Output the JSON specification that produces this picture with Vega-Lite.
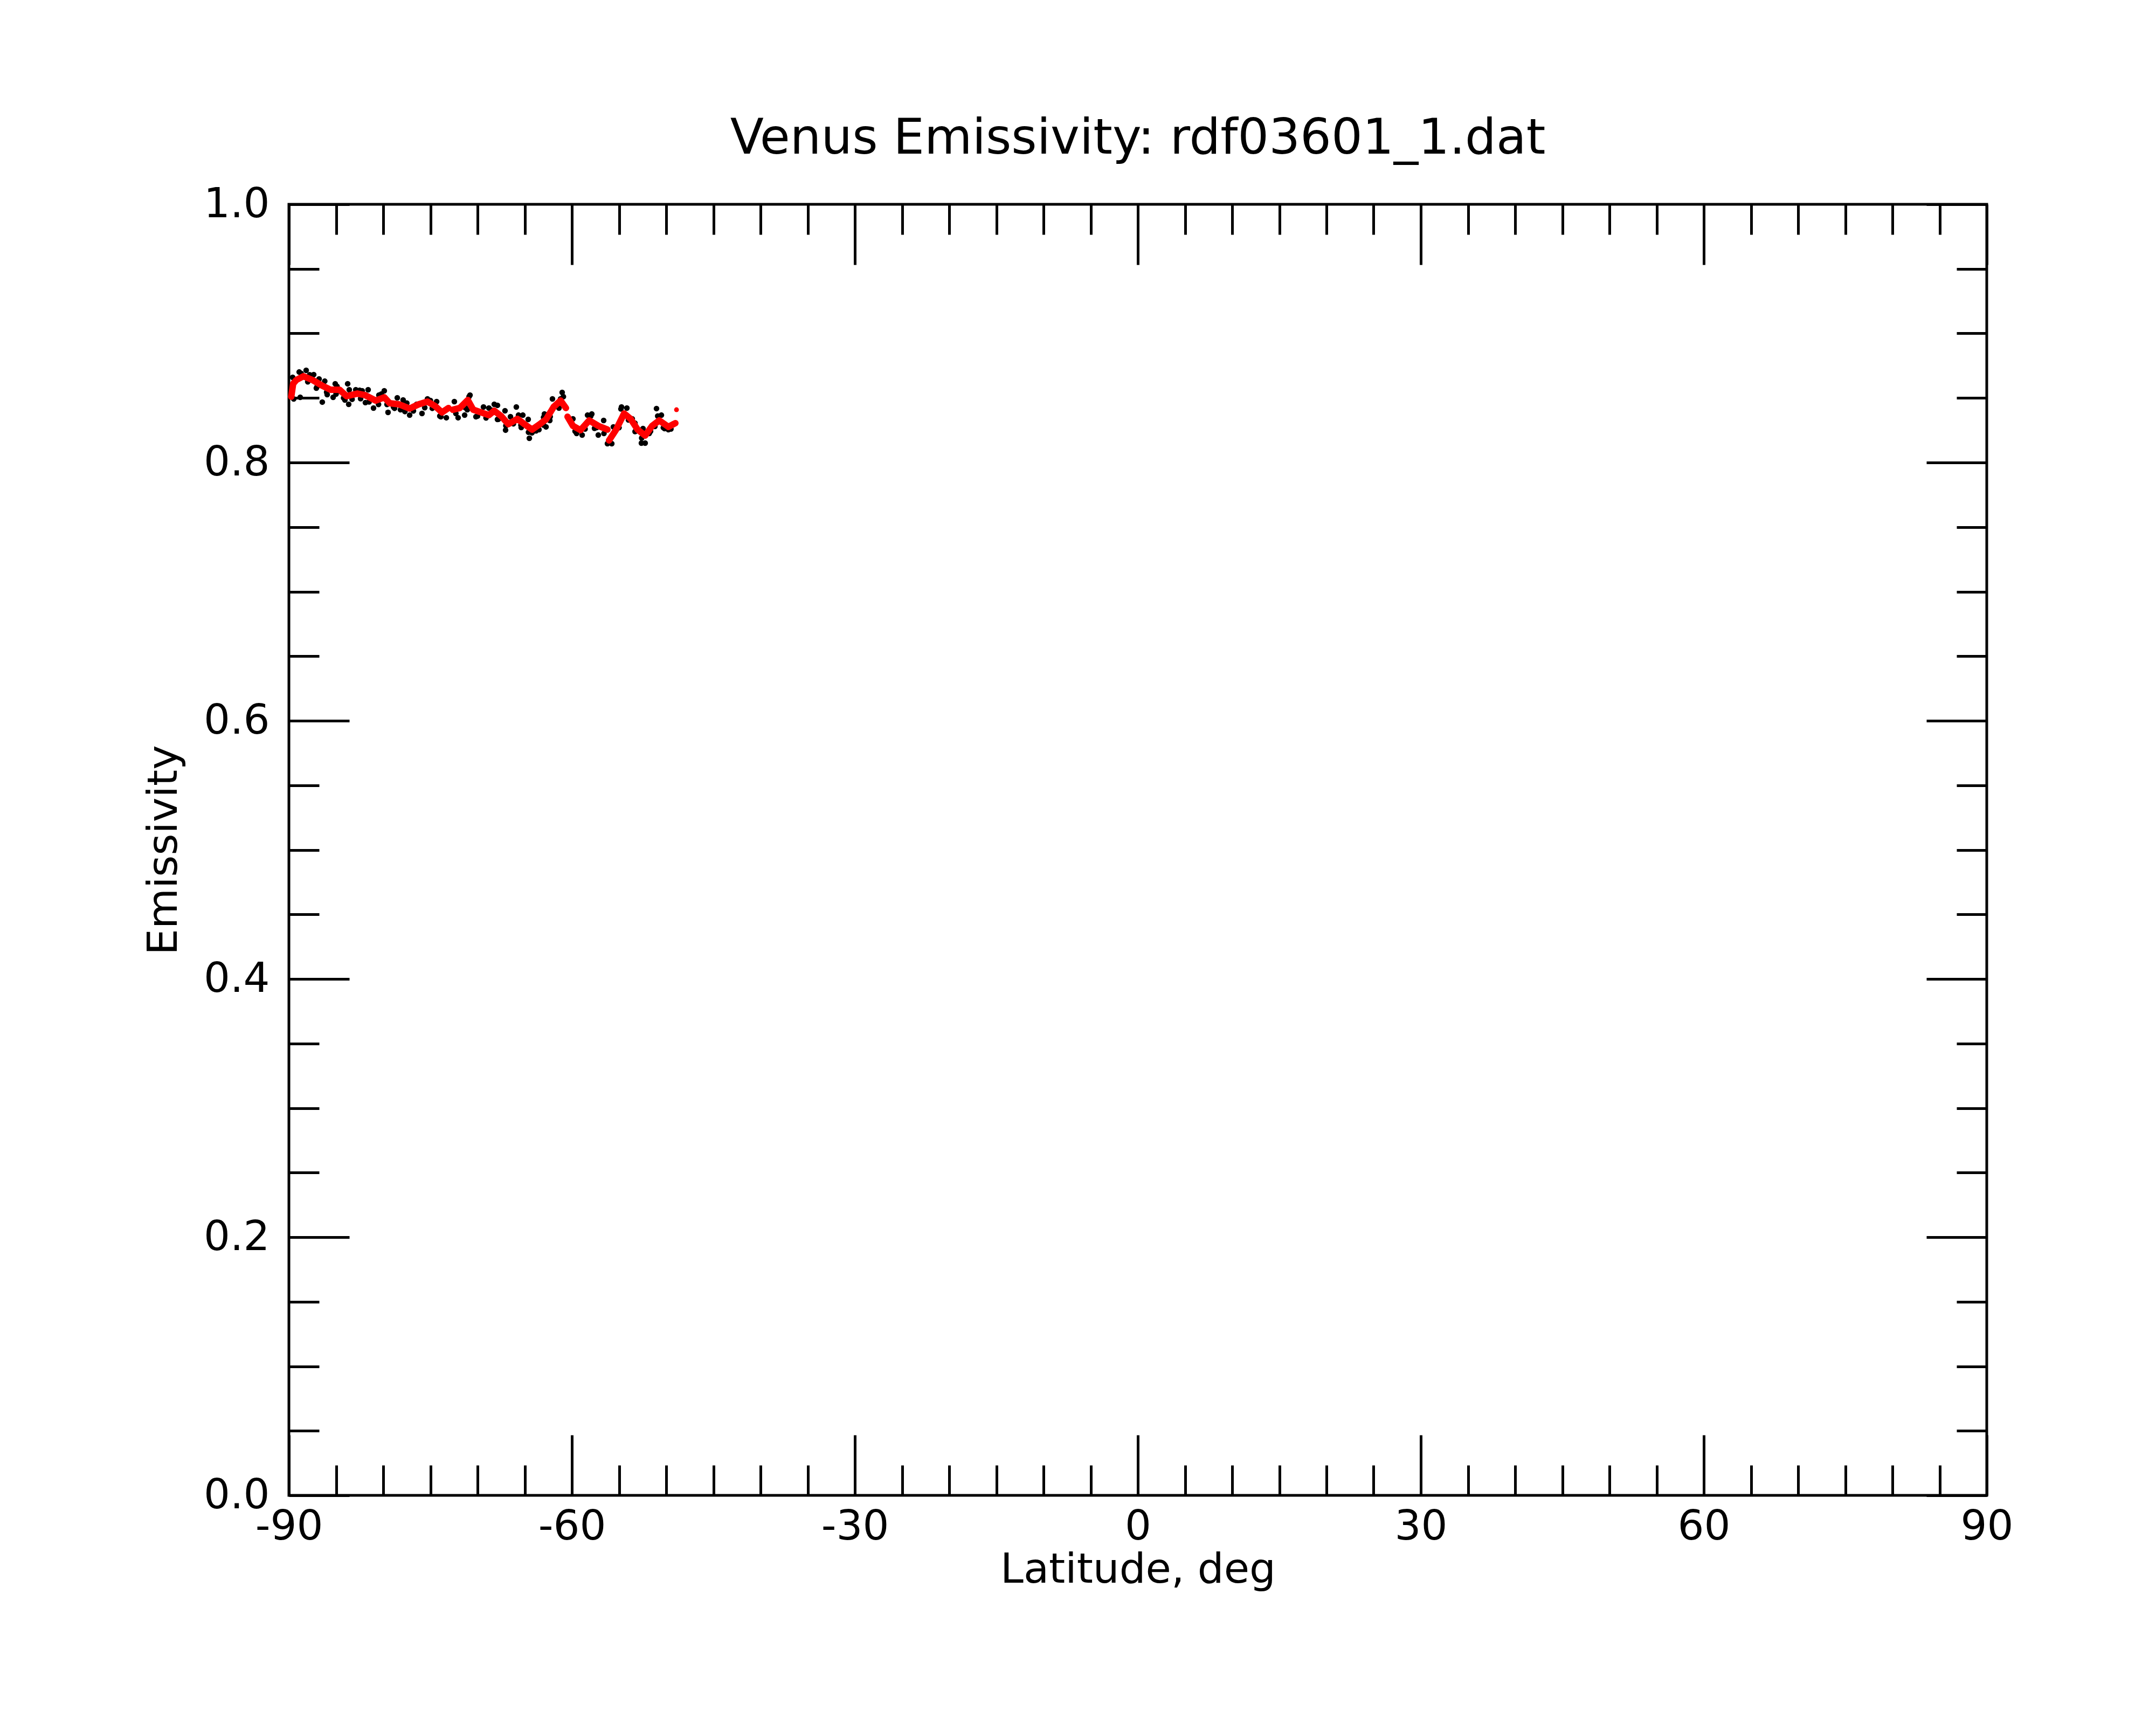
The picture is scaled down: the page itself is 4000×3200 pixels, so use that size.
{
  "$schema": "https://vega.github.io/schema/vega-lite/v6.json",
  "description": "Venus emissivity against latitude: observations (black) and smoothed fit (red).",
  "autosize": "none",
  "padding": {"left": 536, "top": 379, "right": 314, "bottom": 426},
  "width": 3150,
  "height": 2395,
  "background": "white",
  "title": {
    "text": "Venus Emissivity: rdf03601_1.dat",
    "font": "DejaVu Sans",
    "fontSize": 91,
    "fontWeight": "normal",
    "color": "black",
    "anchor": "middle",
    "baseline": "alphabetic",
    "offset": -36
  },
  "config": {
    "view": {"stroke": "black", "strokeWidth": 5},
    "axis": {
      "domain": false,
      "grid": false,
      "tickColor": "black",
      "tickWidth": 5,
      "labelFont": "DejaVu Sans",
      "labelFontSize": 77,
      "labelColor": "black",
      "labelOverlap": false,
      "labelFlush": false,
      "titleFont": "DejaVu Sans",
      "titleFontSize": 77,
      "titleFontWeight": "normal",
      "titleColor": "black"
    }
  },
  "datasets": {
    "obs": [
      {"lat": -89.60, "e": 0.8660}, {"lat": -88.91, "e": 0.8701}, {"lat": -88.17, "e": 0.8714},
      {"lat": -87.37, "e": 0.8681}, {"lat": -86.80, "e": 0.8647}, {"lat": -89.49, "e": 0.8493},
      {"lat": -88.80, "e": 0.8505}, {"lat": -86.46, "e": 0.8468}, {"lat": -85.31, "e": 0.8505},
      {"lat": -85.09, "e": 0.8610}, {"lat": -83.77, "e": 0.8610}, {"lat": -83.60, "e": 0.8564},
      {"lat": -82.91, "e": 0.8564}, {"lat": -83.66, "e": 0.8451}, {"lat": -82.23, "e": 0.8555},
      {"lat": -81.60, "e": 0.8564}, {"lat": -81.89, "e": 0.8464}, {"lat": -81.03, "e": 0.8422},
      {"lat": -80.46, "e": 0.8522}, {"lat": -79.89, "e": 0.8555}, {"lat": -79.49, "e": 0.8388},
      {"lat": -78.51, "e": 0.8501}, {"lat": -77.89, "e": 0.8484}, {"lat": -77.20, "e": 0.8367},
      {"lat": -76.46, "e": 0.8451}, {"lat": -87.09, "e": 0.8576}, {"lat": -85.94, "e": 0.8526},
      {"lat": -84.46, "e": 0.8547}, {"lat": -84.06, "e": 0.8484}, {"lat": -80.74, "e": 0.8484},
      {"lat": -78.91, "e": 0.8430}, {"lat": -78.17, "e": 0.8409},
      {"lat": -75.89, "e": 0.8380}, {"lat": -75.31, "e": 0.8493}, {"lat": -74.34, "e": 0.8472},
      {"lat": -73.89, "e": 0.8355}, {"lat": -73.31, "e": 0.8347}, {"lat": -72.46, "e": 0.8472},
      {"lat": -72.06, "e": 0.8347}, {"lat": -71.37, "e": 0.8367}, {"lat": -70.80, "e": 0.8522},
      {"lat": -71.09, "e": 0.8409}, {"lat": -70.17, "e": 0.8355}, {"lat": -69.37, "e": 0.8430},
      {"lat": -68.80, "e": 0.8422}, {"lat": -68.23, "e": 0.8451}, {"lat": -67.89, "e": 0.8443},
      {"lat": -67.89, "e": 0.8334}, {"lat": -67.09, "e": 0.8401}, {"lat": -67.03, "e": 0.8251},
      {"lat": -66.51, "e": 0.8355}, {"lat": -65.89, "e": 0.8430}, {"lat": -65.66, "e": 0.8367},
      {"lat": -65.20, "e": 0.8367}, {"lat": -65.37, "e": 0.8271}, {"lat": -64.63, "e": 0.8334},
      {"lat": -64.51, "e": 0.8188}, {"lat": -64.23, "e": 0.8230}, {"lat": -63.49, "e": 0.8255},
      {"lat": -62.91, "e": 0.8376}, {"lat": -62.74, "e": 0.8276}, {"lat": -62.06, "e": 0.8493},
      {"lat": -62.34, "e": 0.8326},
      {"lat": -61.03, "e": 0.8543}, {"lat": -61.20, "e": 0.8493}, {"lat": -61.37, "e": 0.8422},
      {"lat": -59.89, "e": 0.8338}, {"lat": -59.66, "e": 0.8242}, {"lat": -58.91, "e": 0.8213},
      {"lat": -58.34, "e": 0.8367}, {"lat": -57.89, "e": 0.8376}, {"lat": -57.37, "e": 0.8271},
      {"lat": -57.20, "e": 0.8213}, {"lat": -56.63, "e": 0.8326}, {"lat": -56.23, "e": 0.8146},
      {"lat": -55.77, "e": 0.8146}, {"lat": -55.60, "e": 0.8276}, {"lat": -54.74, "e": 0.8430},
      {"lat": -54.17, "e": 0.8422}, {"lat": -53.60, "e": 0.8338}, {"lat": -53.31, "e": 0.8305},
      {"lat": -52.46, "e": 0.8263}, {"lat": -52.63, "e": 0.8150}, {"lat": -52.23, "e": 0.8150},
      {"lat": -51.66, "e": 0.8242}, {"lat": -51.03, "e": 0.8418}, {"lat": -50.51, "e": 0.8367},
      {"lat": -50.17, "e": 0.8263}, {"lat": -49.77, "e": 0.8255}, {"lat": -49.31, "e": 0.8297},
      {"lat": -88.0, "e": 0.8625}, {"lat": -87.0, "e": 0.8590}, {"lat": -86.0, "e": 0.8545},
      {"lat": -85.0, "e": 0.8530}, {"lat": -84.2, "e": 0.8500}, {"lat": -83.3, "e": 0.8490},
      {"lat": -82.4, "e": 0.8495}, {"lat": -81.5, "e": 0.8470}, {"lat": -80.5, "e": 0.8450},
      {"lat": -79.6, "e": 0.8450}, {"lat": -78.8, "e": 0.8420}, {"lat": -77.7, "e": 0.8395},
      {"lat": -76.8, "e": 0.8400}, {"lat": -75.6, "e": 0.8425}, {"lat": -74.8, "e": 0.8420},
      {"lat": -74.0, "e": 0.8360}, {"lat": -72.3, "e": 0.8380}, {"lat": -71.3, "e": 0.8425},
      {"lat": -70.0, "e": 0.8360}, {"lat": -69.1, "e": 0.8345}, {"lat": -67.8, "e": 0.8335},
      {"lat": -67.0, "e": 0.8285}, {"lat": -66.2, "e": 0.8300}, {"lat": -65.4, "e": 0.8290},
      {"lat": -64.6, "e": 0.8235}, {"lat": -63.8, "e": 0.8245}, {"lat": -63.0, "e": 0.8290},
      {"lat": -62.3, "e": 0.8355}, {"lat": -59.5, "e": 0.8225}, {"lat": -58.6, "e": 0.8260},
      {"lat": -57.6, "e": 0.8265}, {"lat": -56.6, "e": 0.8225}, {"lat": -55.0, "e": 0.8270},
      {"lat": -54.0, "e": 0.8330}, {"lat": -53.3, "e": 0.8240}, {"lat": -52.6, "e": 0.8190},
      {"lat": -51.8, "e": 0.8225}, {"lat": -51.2, "e": 0.8280}, {"lat": -50.3, "e": 0.8270},
      {"lat": -49.5, "e": 0.8260},
      {"lat": -88.7, "e": 0.8690}, {"lat": -87.8, "e": 0.8680}, {"lat": -86.2, "e": 0.8630},
      {"lat": -84.9, "e": 0.8590}, {"lat": -82.5, "e": 0.8560}, {"lat": -80.2, "e": 0.8530},
      {"lat": -77.5, "e": 0.8460}, {"lat": -75.0, "e": 0.8480}, {"lat": -70.9, "e": 0.8510},
      {"lat": -68.5, "e": 0.8405}, {"lat": -63.0, "e": 0.8350}, {"lat": -60.9, "e": 0.8510},
      {"lat": -58.0, "e": 0.8360}, {"lat": -54.8, "e": 0.8415}, {"lat": -50.9, "e": 0.8360}
    ],
    "fit": [
      {"seg": 1, "lat": -89.75, "e": 0.8510}, {"seg": 1, "lat": -89.65, "e": 0.8560},
      {"seg": 1, "lat": -89.55, "e": 0.8610}, {"seg": 1, "lat": -89.20, "e": 0.8640},
      {"seg": 1, "lat": -88.46, "e": 0.8668}, {"seg": 1, "lat": -87.49, "e": 0.8639},
      {"seg": 1, "lat": -86.51, "e": 0.8597}, {"seg": 1, "lat": -85.60, "e": 0.8564},
      {"seg": 1, "lat": -84.63, "e": 0.8564}, {"seg": 1, "lat": -83.89, "e": 0.8514},
      {"seg": 1, "lat": -82.74, "e": 0.8534}, {"seg": 1, "lat": -81.94, "e": 0.8522},
      {"seg": 1, "lat": -80.80, "e": 0.8480}, {"seg": 1, "lat": -79.89, "e": 0.8505},
      {"seg": 1, "lat": -79.31, "e": 0.8459}, {"seg": 1, "lat": -78.34, "e": 0.8451},
      {"seg": 1, "lat": -77.20, "e": 0.8418}, {"seg": 1, "lat": -76.23, "e": 0.8451},
      {"seg": 1, "lat": -75.31, "e": 0.8472}, {"seg": 1, "lat": -74.51, "e": 0.8438},
      {"seg": 1, "lat": -73.77, "e": 0.8388}, {"seg": 1, "lat": -73.09, "e": 0.8422},
      {"seg": 2, "lat": -72.63, "e": 0.8409}, {"seg": 2, "lat": -71.89, "e": 0.8422},
      {"seg": 2, "lat": -71.03, "e": 0.8484}, {"seg": 2, "lat": -70.46, "e": 0.8409},
      {"seg": 2, "lat": -69.60, "e": 0.8388}, {"seg": 2, "lat": -68.80, "e": 0.8367},
      {"seg": 2, "lat": -68.23, "e": 0.8401}, {"seg": 2, "lat": -67.49, "e": 0.8359},
      {"seg": 2, "lat": -66.74, "e": 0.8297}, {"seg": 2, "lat": -65.77, "e": 0.8338},
      {"seg": 2, "lat": -65.03, "e": 0.8297}, {"seg": 2, "lat": -64.23, "e": 0.8255},
      {"seg": 2, "lat": -63.49, "e": 0.8292}, {"seg": 2, "lat": -62.74, "e": 0.8334},
      {"seg": 2, "lat": -61.94, "e": 0.8430}, {"seg": 2, "lat": -61.20, "e": 0.8480},
      {"seg": 2, "lat": -60.63, "e": 0.8422},
      {"seg": 3, "lat": -60.46, "e": 0.8355}, {"seg": 3, "lat": -59.89, "e": 0.8284},
      {"seg": 3, "lat": -59.09, "e": 0.8251}, {"seg": 3, "lat": -58.17, "e": 0.8326},
      {"seg": 3, "lat": -57.20, "e": 0.8284}, {"seg": 3, "lat": -56.23, "e": 0.8255},
      {"seg": 4, "lat": -56.06, "e": 0.8171}, {"seg": 4, "lat": -55.31, "e": 0.8255},
      {"seg": 4, "lat": -54.46, "e": 0.8380}, {"seg": 4, "lat": -53.77, "e": 0.8338},
      {"seg": 4, "lat": -53.03, "e": 0.8255}, {"seg": 4, "lat": -52.23, "e": 0.8209},
      {"seg": 4, "lat": -51.49, "e": 0.8284}, {"seg": 4, "lat": -50.74, "e": 0.8326},
      {"seg": 4, "lat": -49.77, "e": 0.8276}, {"seg": 4, "lat": -49.03, "e": 0.8305}
    ],
    "fitExtra": [
      {"lat": -48.91, "e": 0.8409}
    ]
  },
  "resolve": {"axis": {"x": "independent", "y": "independent"}},
  "layer": [
    {
      "data": {"name": "obs"},
      "mark": {"type": "circle", "color": "black", "opacity": 1, "size": 110},
      "encoding": {
        "x": {
          "field": "lat", "type": "quantitative",
          "scale": {"domain": [-90, 90], "nice": false, "zero": false},
          "axis": {
            "orient": "bottom",
            "title": "Latitude, deg",
            "titleBaseline": "alphabetic",
            "titleY": 161,
            "values": [-90, -85, -80, -75, -70, -65, -60, -55, -50, -45, -40, -35, -30, -25, -20, -15, -10, -5, 0, 5, 10, 15, 20, 25, 30, 35, 40, 45, 50, 55, 60, 65, 70, 75, 80, 85, 90],
            "tickSize": {"condition": {"test": "datum.value % 30 === 0", "value": -112}, "value": -56},
            "labelExpr": "datum.value % 30 === 0 ? '' + datum.value : ''",
            "labelPadding": 132
          }
        },
        "y": {
          "field": "e", "type": "quantitative",
          "scale": {"domain": [0, 1], "nice": false},
          "axis": {
            "orient": "left",
            "title": "Emissivity",
            "titleAngle": -90,
            "titleBaseline": "alphabetic",
            "titleX": -209,
            "values": [0, 0.05, 0.1, 0.15, 0.2, 0.25, 0.3, 0.35, 0.4, 0.45, 0.5, 0.55, 0.6, 0.65, 0.7, 0.75, 0.8, 0.85, 0.9, 0.95, 1],
            "tickSize": {"condition": {"test": "round(datum.value * 20) % 4 === 0", "value": -112}, "value": -56},
            "labelExpr": "round(datum.value * 20) % 4 === 0 ? format(datum.value, '.1f') : ''",
            "labelPadding": 148
          }
        }
      }
    },
    {
      "data": {"name": "fit"},
      "mark": {"type": "line", "color": "red", "strokeWidth": 12, "strokeCap": "round", "strokeJoin": "round"},
      "encoding": {
        "x": {
          "field": "lat", "type": "quantitative",
          "axis": {
            "orient": "top",
            "title": null,
            "labels": false,
            "values": [-90, -85, -80, -75, -70, -65, -60, -55, -50, -45, -40, -35, -30, -25, -20, -15, -10, -5, 0, 5, 10, 15, 20, 25, 30, 35, 40, 45, 50, 55, 60, 65, 70, 75, 80, 85, 90],
            "tickSize": {"condition": {"test": "datum.value % 30 === 0", "value": -112}, "value": -56}
          }
        },
        "y": {
          "field": "e", "type": "quantitative",
          "axis": {
            "orient": "right",
            "title": null,
            "labels": false,
            "values": [0, 0.05, 0.1, 0.15, 0.2, 0.25, 0.3, 0.35, 0.4, 0.45, 0.5, 0.55, 0.6, 0.65, 0.7, 0.75, 0.8, 0.85, 0.9, 0.95, 1],
            "tickSize": {"condition": {"test": "round(datum.value * 20) % 4 === 0", "value": -112}, "value": -56}
          }
        },
        "detail": {"field": "seg", "type": "nominal"}
      }
    },
    {
      "data": {"name": "fitExtra"},
      "mark": {"type": "circle", "color": "red", "opacity": 1, "size": 80},
      "encoding": {
        "x": {"field": "lat", "type": "quantitative", "axis": null},
        "y": {"field": "e", "type": "quantitative", "axis": null}
      }
    }
  ]
}
